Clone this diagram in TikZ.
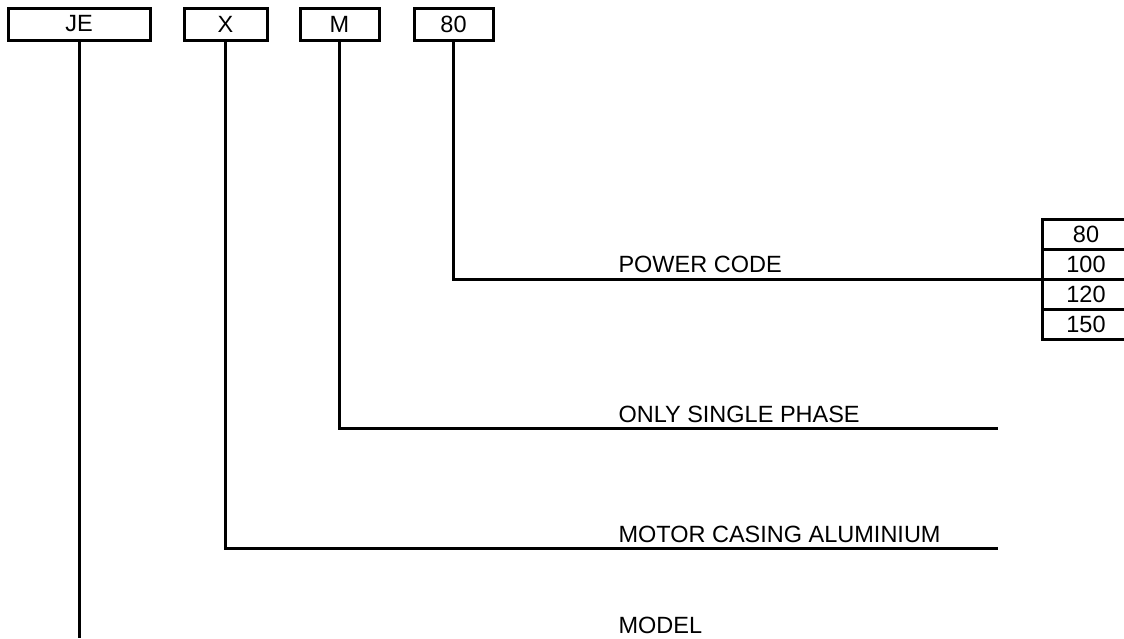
\documentclass[tikz,border=0pt]{standalone}
\usepackage{fontspec}
\setmainfont{Liberation Sans}
\usetikzlibrary{positioning}

\begin{document}
\begin{tikzpicture}[
  x=1pt, y=-1pt,
  font=\fontsize{23.5}{28}\selectfont,
  every path/.style={line width=3pt},
  code/.style={draw, line width=3pt, minimum height=32pt, inner sep=0pt, outer sep=0pt},
  cell/.style={draw, line width=3pt, minimum width=88pt, minimum height=30pt,
    inner sep=0pt, outer sep=0pt},
  lbl/.style={anchor=base west, inner sep=0pt},
]
  \useasboundingbox (0,0) rectangle (1124,638);

  % code boxes
  \node[code, minimum width=142pt] (je) at (79,24)    {JE};
  \node[code, minimum width=83pt]  (x)  at (225.5,24) {X};
  \node[code, minimum width=79pt]  (m)  at (339.5,24) {M};
  \node[code, minimum width=79pt]  (pw) at (453.5,24) {80};

  % power code values
  \node[cell] (v80) at (1086,234) {80};
  \node[cell, below=0pt of v80]  (v100) {100};
  \node[cell, below=0pt of v100] (v120) {120};
  \node[cell, below=0pt of v120] (v150) {150};

  % labels
  \node[lbl] (lpw) at (617,272) {POWER CODE};
  \node[lbl] (lm)  at (617,422) {ONLY SINGLE PHASE};
  \node[lbl] (lx)  at (617,542) {MOTOR CASING ALUMINIUM};
  \node[lbl] (lje) at (617,633) {MODEL};

  \coordinate (mend) at (998,428);
  \coordinate (xend) at (998,548);
  \coordinate (jeend) at (79,638);

  \draw (pw.south) |- (v120.north west);
  \draw (m.south) |- (mend);
  \draw (x.south) |- (xend);
  \draw (je.south) -- (jeend);
\end{tikzpicture}
\end{document}
